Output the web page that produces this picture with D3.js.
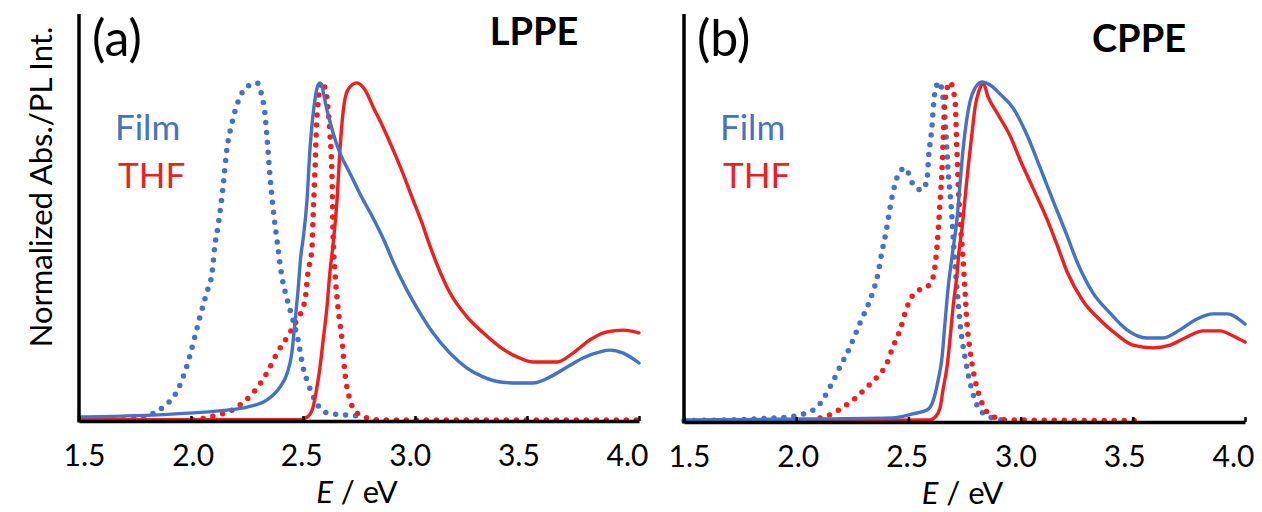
<!DOCTYPE html>
<html lang="en">
<head>
    <meta charset="UTF-8" />
    <title>LPPE / CPPE spectra</title>
    <script src="https://d3js.org/d3.v7.min.js"></script>
    <style>
        body { margin: 0; background: #fff; }
        text { font-family: Lato, "Open Sans", sans-serif; fill: #000; }
    </style>
</head>
<body>
    <script>
        // x ticks (eV)
        const xTicks = [1.5, 2.0, 2.5, 3.0, 3.5, 4.0];

        // (a) LPPE : [E (eV), normalized intensity]
        const lppeFilmAbs = [[1.70,0.004],[1.76,0.008],[1.817,0.018],[1.875,0.041],[1.94,0.091],[1.98,0.159],[2.01,0.23],[2.04,0.307],[2.07,0.378],[2.094,0.437],[2.107,0.52],[2.12,0.572],[2.143,0.69],[2.16,0.80],[2.183,0.879],[2.219,0.956],[2.263,0.991],[2.295,0.997],[2.317,0.956],[2.33,0.908],[2.339,0.838],[2.353,0.72],[2.366,0.631],[2.386,0.522],[2.406,0.425],[2.43,0.357],[2.455,0.298],[2.478,0.239],[2.50,0.159],[2.522,0.112],[2.56,0.053],[2.607,0.024],[2.68,0.018],[2.76,0.015]];
        const lppeThfAbs = [[2.01,0.003],[2.085,0.012],[2.205,0.041],[2.277,0.083],[2.339,0.142],[2.384,0.2],[2.43,0.248],[2.473,0.298],[2.509,0.357],[2.522,0.437],[2.54,0.51],[2.545,0.602],[2.554,0.75],[2.562,0.897],[2.585,1.0],[2.607,0.947],[2.62,0.85],[2.63,0.702],[2.634,0.555],[2.643,0.437],[2.656,0.336],[2.674,0.239],[2.687,0.142],[2.71,0.062],[2.74,0.024],[2.786,0.009],[2.85,0.003],[4.0,0.003]];
        const lppeFilmPL = [[1.5,0.012],[1.714,0.015],[2.01,0.024],[2.16,0.032],[2.25,0.041],[2.339,0.062],[2.397,0.10],[2.43,0.142],[2.45,0.20],[2.464,0.289],[2.478,0.386],[2.49,0.484],[2.5,0.534],[2.518,0.652],[2.531,0.80],[2.549,0.926],[2.567,0.991],[2.576,0.997],[2.607,0.917],[2.634,0.85],[2.665,0.79],[2.71,0.73],[2.754,0.67],[2.813,0.598],[2.86,0.535],[2.902,0.47],[2.964,0.386],[3.022,0.319],[3.08,0.26],[3.156,0.20],[3.232,0.156],[3.304,0.13],[3.38,0.115],[3.455,0.112],[3.527,0.112],[3.603,0.13],[3.679,0.159],[3.75,0.186],[3.826,0.204],[3.87,0.209],[3.93,0.20],[4.0,0.171]];
        const lppeThfPL = [[1.5,0.004],[2.487,0.004],[2.52,0.012],[2.545,0.041],[2.56,0.091],[2.576,0.159],[2.59,0.239],[2.607,0.336],[2.62,0.437],[2.634,0.52],[2.652,0.652],[2.665,0.80],[2.68,0.917],[2.70,0.976],[2.74,0.997],[2.777,0.976],[2.813,0.926],[2.857,0.867],[2.902,0.80],[2.946,0.73],[2.991,0.652],[3.036,0.575],[3.054,0.54],[3.098,0.462],[3.156,0.378],[3.232,0.307],[3.304,0.26],[3.38,0.218],[3.455,0.189],[3.527,0.174],[3.634,0.174],[3.705,0.20],[3.78,0.239],[3.857,0.263],[3.93,0.268],[4.0,0.26]];

        // (b) CPPE
        const cppeFilmAbs = [[1.5,0.004],[1.914,0.012],[2.017,0.021],[2.093,0.044],[2.151,0.103],[2.195,0.162],[2.24,0.221],[2.284,0.291],[2.329,0.359],[2.365,0.438],[2.382,0.50],[2.396,0.544],[2.431,0.674],[2.454,0.726],[2.485,0.747],[2.52,0.70],[2.56,0.682],[2.583,0.712],[2.59,0.779],[2.605,0.868],[2.614,0.947],[2.627,0.991],[2.636,1.0],[2.654,0.956],[2.663,0.897],[2.676,0.747],[2.694,0.603],[2.703,0.506],[2.717,0.388],[2.73,0.291],[2.752,0.191],[2.775,0.115],[2.819,0.035],[2.873,0.012],[2.92,0.006]];
        const cppeThfAbs = [[2.106,0.012],[2.151,0.021],[2.209,0.044],[2.271,0.074],[2.316,0.103],[2.36,0.132],[2.405,0.174],[2.431,0.221],[2.463,0.271],[2.485,0.32],[2.507,0.359],[2.538,0.385],[2.583,0.397],[2.61,0.426],[2.623,0.485],[2.632,0.553],[2.641,0.65],[2.65,0.747],[2.656,0.847],[2.663,0.944],[2.685,1.0],[2.708,0.944],[2.715,0.82],[2.722,0.70],[2.732,0.58],[2.743,0.485],[2.752,0.388],[2.761,0.291],[2.775,0.209],[2.797,0.124],[2.828,0.056],[2.864,0.021],[2.94,0.006],[3.55,0.004]];
        const cppeFilmPL = [[1.5,0.006],[1.9,0.008],[2.43,0.012],[2.52,0.024],[2.583,0.035],[2.61,0.062],[2.632,0.121],[2.65,0.191],[2.663,0.291],[2.676,0.388],[2.694,0.485],[2.717,0.60],[2.73,0.70],[2.743,0.797],[2.761,0.894],[2.775,0.944],[2.797,0.982],[2.828,1.0],[2.864,0.991],[2.908,0.965],[2.966,0.924],[3.028,0.845],[3.086,0.75],[3.144,0.652],[3.207,0.548],[3.251,0.472],[3.323,0.379],[3.398,0.321],[3.474,0.271],[3.563,0.247],[3.635,0.247],[3.71,0.271],[3.786,0.303],[3.857,0.318],[3.92,0.318],[4.0,0.288]];
        const cppeThfPL = [[1.93,0.003],[2.596,0.006],[2.62,0.015],[2.641,0.041],[2.654,0.094],[2.672,0.162],[2.685,0.241],[2.699,0.338],[2.717,0.438],[2.726,0.505],[2.739,0.57],[2.752,0.655],[2.766,0.747],[2.783,0.847],[2.797,0.924],[2.819,0.982],[2.833,0.997],[2.855,0.956],[2.895,0.909],[2.953,0.842],[2.997,0.772],[3.055,0.688],[3.118,0.596],[3.162,0.522],[3.207,0.442],[3.278,0.356],[3.354,0.30],[3.43,0.256],[3.5,0.226],[3.59,0.218],[3.666,0.226],[3.741,0.25],[3.813,0.268],[3.889,0.268],[3.947,0.253],[4.0,0.235]];

        const blue = "#4472c4";
        const red = "#f21d1d";

        const svg = d3.select("body")
            .append("svg")
            .attr("width", 1262)
            .attr("height", 512);

        function drawPanel(p) {
            const g = svg.append("g")
                .attr("transform", `translate(${p.left}, ${p.top})`);
            const h = p.bottom - p.top;

            const x = d3.scaleLinear().domain([1.5, 4.0]).range([0, p.width]);
            const y = d3.scaleLinear().domain([0, 1.2]).range([h, 0]);
            // tick labels sit a bit tighter than the ticks in the original
            const xLab = d3.scaleLinear().domain([1.5, 4.0]).range([5, p.width - 12]);

            const line = d3.line()
                .x(d => x(d[0]))
                .y(d => y(d[1]))
                .curve(d3.curveMonotoneX);

            // dotted = absorption, solid = PL
            p.series.forEach(s => {
                g.append("path")
                    .attr("d", line(s.data))
                    .attr("fill", "none")
                    .attr("stroke", s.color)
                    .attr("stroke-width", s.dotted ? 5.5 : 3.4)
                    .attr("stroke-linecap", "round")
                    .attr("stroke-linejoin", "round")
                    .attr("stroke-dasharray", s.dotted ? "0 10" : null);
            });

            // axes
            const xAxis = g.append("g")
                .attr("transform", `translate(0, ${h})`)
                .call(d3.axisBottom(x)
                    .tickValues(xTicks)
                    .tickFormat(d3.format(".1f"))
                    .tickSizeInner(-5)
                    .tickSizeOuter(0)
                    .tickPadding(24));
            xAxis.select(".domain").attr("stroke", "#000").attr("stroke-width", 3.5);
            xAxis.selectAll(".tick line").attr("stroke", "#000").attr("stroke-width", 2.5);
            xAxis.selectAll(".tick text")
                .attr("x", d => xLab(d) - x(d))
                .style("font-family", "Lato, 'Open Sans', sans-serif")
                .style("font-size", "30px")
                .attr("fill", "#000");

            g.append("line")
                .attr("x1", 0).attr("x2", 0)
                .attr("y1", 0).attr("y2", h + 1.5)
                .attr("stroke", "#000")
                .attr("stroke-width", 3.5);

            // axis title
            g.append("text")
                .attr("x", p.width / 2 - 2)
                .attr("y", h + 82)
                .attr("text-anchor", "middle")
                .style("font-size", "31px")
                .html('<tspan font-style="italic">E</tspan> / eV');

            // panel letter, title, legend
            g.append("text")
                .attr("x", 13).attr("y", 42)
                .style("font-size", "50px")
                .text(p.letter);
            g.append("text")
                .attr("x", p.titleX).attr("y", p.titleY)
                .attr("text-anchor", "middle")
                .style("font-size", "38px")
                .style("font-weight", "bold")
                .text(p.title);
            g.append("text")
                .attr("x", 36).attr("y", 126)
                .style("font-size", "35px")
                .style("fill", blue)
                .text("Film");
            g.append("text")
                .attr("x", 39).attr("y", 174)
                .style("font-size", "35px")
                .style("fill", red)
                .text("THF");
        }

        drawPanel({
            left: 79, top: 14, bottom: 421, width: 560,
            letter: "(a)", title: "LPPE", titleX: 455, titleY: 31,
            series: [
                { data: lppeFilmAbs, color: blue, dotted: true },
                { data: lppeThfAbs, color: red, dotted: true },
                { data: lppeThfPL, color: red, dotted: false },
                { data: lppeFilmPL, color: blue, dotted: false }
            ]
        });

        drawPanel({
            left: 684, top: 14, bottom: 422, width: 561,
            letter: "(b)", title: "CPPE", titleX: 455, titleY: 38,
            series: [
                { data: cppeFilmAbs, color: blue, dotted: true },
                { data: cppeThfAbs, color: red, dotted: true },
                { data: cppeThfPL, color: red, dotted: false },
                { data: cppeFilmPL, color: blue, dotted: false }
            ]
        });

        // shared y title
        svg.append("text")
            .attr("transform", "translate(52, 187) rotate(-90)")
            .attr("text-anchor", "middle")
            .style("font-size", "31px")
            .text("Normalized Abs./PL Int.");
    </script>
</body>
</html>
